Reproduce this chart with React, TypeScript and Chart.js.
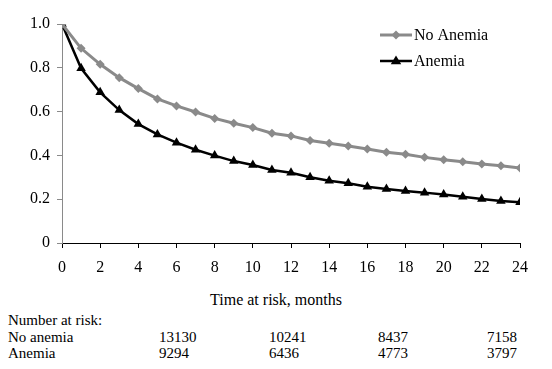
import React, { useEffect, useRef } from "react";
import { Chart, registerables } from "chart.js";

Chart.register(...registerables);

const months = [0, 1, 2, 3, 4, 5, 6, 7, 8, 9, 10, 11, 12, 13, 14, 15, 16, 17, 18, 19, 20, 21, 22, 23, 24];
const noAnemia = [1.0, 0.889, 0.816, 0.755, 0.705, 0.658, 0.626, 0.598, 0.569, 0.547, 0.527, 0.501, 0.489, 0.468, 0.455, 0.443, 0.429, 0.414, 0.405, 0.391, 0.38, 0.371, 0.361, 0.353, 0.342];
const anemia = [1.0, 0.798, 0.688, 0.607, 0.543, 0.496, 0.458, 0.426, 0.399, 0.374, 0.356, 0.333, 0.321, 0.3, 0.284, 0.273, 0.257, 0.247, 0.237, 0.23, 0.221, 0.211, 0.201, 0.192, 0.186];
const seriesNames = ["No Anemia", "Anemia"];
const xTitle = "Time at risk, months";
const riskHeader = "Number at risk:";
const riskRowLabels = ["No anemia", "Anemia"];
const riskNoAnemia = ["13130", "10241", "8437", "7158"];
const riskAnemia = ["9294", "6436", "4773", "3797"];

const FONT = '"Liberation Serif", "Times New Roman", serif';
const GRAY = "#8a8a8a";

const legendPlugin = {
  id: "customLegend",
  afterDraw(chart: any) {
    const ctx = chart.ctx;
    const items = chart.data.datasets;
    const x0 = 380;
    const x1 = 412;
    const ys = [35, 61];
    ctx.save();
    items.forEach((ds: any, i: number) => {
      const y = ys[i];
      ctx.strokeStyle = ds.borderColor;
      ctx.lineWidth = ds.borderWidth;
      ctx.beginPath();
      ctx.moveTo(x0, y);
      ctx.lineTo(x1, y);
      ctx.stroke();
      ctx.fillStyle = ds.pointBackgroundColor;
      ctx.beginPath();
      const cx = (x0 + x1) / 2;
      const r = ds.pointRadius;
      if (ds.pointStyle === "rectRot") {
        ctx.moveTo(cx, y - r);
        ctx.lineTo(cx + r, y);
        ctx.lineTo(cx, y + r);
        ctx.lineTo(cx - r, y);
      } else {
        ctx.moveTo(cx, y - r);
        ctx.lineTo(cx + r * 0.95, y + r * 0.6);
        ctx.lineTo(cx - r * 0.95, y + r * 0.6);
      }
      ctx.closePath();
      ctx.fill();
      ctx.fillStyle = "#000";
      ctx.font = `16px ${FONT}`;
      ctx.textBaseline = "middle";
      ctx.textAlign = "left";
      ctx.fillText(ds.label, x1 + 2, y + 1);
    });
    ctx.restore();
  },
};

export default function App() {
  const ref = useRef<HTMLCanvasElement | null>(null);
  useEffect(() => {
    if (!ref.current) return;
    const chart = new Chart(ref.current, {
      type: "line",
      data: {
        datasets: [
          {
            label: seriesNames[0],
            data: months.map((m, i) => ({ x: m, y: noAnemia[i] })),
            borderColor: GRAY,
            backgroundColor: GRAY,
            pointBackgroundColor: GRAY,
            pointBorderColor: GRAY,
            borderWidth: 3,
            pointStyle: "rectRot",
            pointRadius: 4.5,
            pointBorderWidth: 0,
            tension: 0,
          } as any,
          {
            label: seriesNames[1],
            data: months.map((m, i) => ({ x: m, y: anemia[i] })),
            borderColor: "#000",
            backgroundColor: "#000",
            pointBackgroundColor: "#000",
            pointBorderColor: "#000",
            borderWidth: 2.5,
            pointStyle: "triangle",
            pointRadius: 5.5,
            pointBorderWidth: 0,
            tension: 0,
          } as any,
        ],
      },
      options: {
        animation: false,
        responsive: false,
        maintainAspectRatio: false,
        layout: { padding: { left: 0, right: 32, top: 24, bottom: 0 } },
        plugins: { legend: { display: false }, tooltip: { enabled: false } },
        scales: {
          x: {
            type: "linear",
            min: 0,
            max: 24,
            afterFit: (s: any) => {
              s.height = 47;
            },
            ticks: {
              stepSize: 2,
              color: "#000",
              font: { family: FONT, size: 16 },
              padding: 10,
              maxRotation: 0,
            },
            grid: { drawOnChartArea: false, drawTicks: true, tickLength: 5, color: "#000" },
            border: { color: "#000", width: 1 },
          },
          y: {
            min: 0,
            max: 1,
            afterFit: (s: any) => {
              s.width = 62;
            },
            ticks: {
              stepSize: 0.2,
              color: "#000",
              font: { family: FONT, size: 16 },
              padding: 7,
              callback: (v: any) => (Number(v) === 0 ? "0" : Number(v).toFixed(1)),
            },
            grid: { drawOnChartArea: false, drawTicks: true, tickLength: 5, color: GRAY },
            border: { color: GRAY, width: 1 },
          },
        },
      },
      plugins: [legendPlugin],
    });
    return () => chart.destroy();
  }, []);

  const cols = [159, 269, 378, 487];
  const textStyle: React.CSSProperties = {
    position: "absolute",
    fontFamily: FONT,
    fontSize: 15,
    lineHeight: "16px",
    color: "#000",
    whiteSpace: "nowrap",
  };
  return (
    <div
      style={{
        position: "fixed",
        left: 0,
        top: 0,
        width: 552,
        height: 369,
        background: "#fff",
        overflow: "hidden",
      }}
    >
      <canvas ref={ref} width={552} height={290} style={{ position: "absolute", left: 0, top: 0, width: 552, height: 290 }} />
      <div style={{ ...textStyle, fontSize: 16, left: 0, width: 552, textAlign: "center", top: 292 }}>{xTitle}</div>
      <div style={{ ...textStyle, left: 8, top: 312 }}>{riskHeader}</div>
      <div style={{ ...textStyle, left: 8, top: 329 }}>{riskRowLabels[0]}</div>
      <div style={{ ...textStyle, left: 8, top: 345 }}>{riskRowLabels[1]}</div>
      {riskNoAnemia.map((v, i) => (
        <div key={"n" + i} style={{ ...textStyle, left: cols[i], top: 329 }}>{v}</div>
      ))}
      {riskAnemia.map((v, i) => (
        <div key={"a" + i} style={{ ...textStyle, left: cols[i], top: 345 }}>{v}</div>
      ))}
    </div>
  );
}
